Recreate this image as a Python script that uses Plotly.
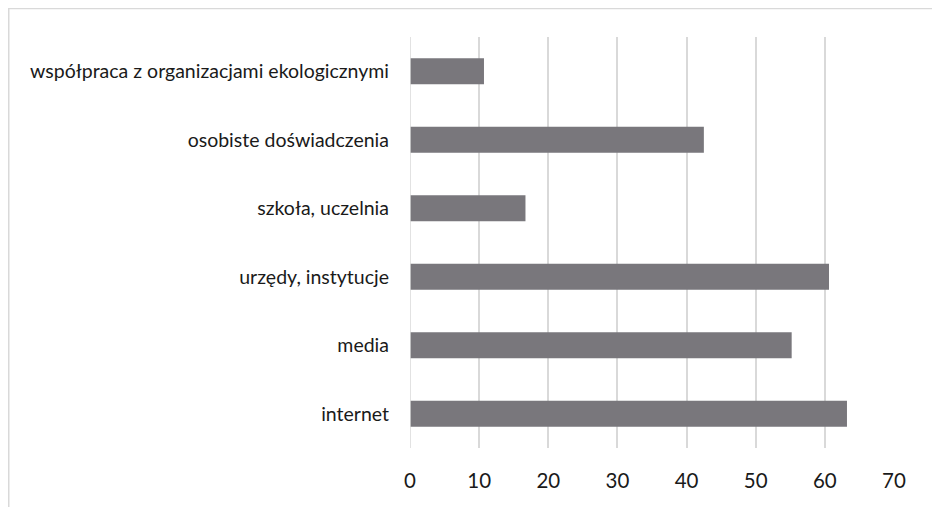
import plotly.graph_objects as go

categories = ["internet", "media", "urzędy, instytucje", "szkoła, uczelnia",
              "osobiste doświadczenia", "współpraca z organizacjami ekologicznymi"]
values = [63.2, 55.2, 60.6, 16.7, 42.5, 10.7]
x_ticks = [0, 10, 20, 30, 40, 50, 60, 70]

# page has an 8px body margin; figure coordinates below are page - 8
W, H = 932, 499
L, R, T, B = 402, 886, 29, 440

fig = go.Figure(go.Bar(
    y=categories, x=values, orientation="h",
    marker=dict(color="#79777c", line=dict(width=0)),
    width=0.38,
))

def px_x(p):
    return (p - L) / (R - L)

def px_y(p):
    return (B - p) / (B - T)

fig.update_layout(
    width=W, height=H,
    margin=dict(l=L, r=W - R, t=T, b=H - B, pad=0),
    paper_bgcolor="white", plot_bgcolor="white",
    showlegend=False,
    font=dict(family="Lato, Open Sans, sans-serif", color="#1a1a1a"),
    xaxis=dict(range=[0, 70], tickvals=x_ticks, showgrid=True,
               gridcolor="#d9d9d9", gridwidth=1.5, zeroline=False,
               showline=False, ticks="", tickfont=dict(size=20.5, color="#1a1a1a"),
               ticklabelstandoff=18, fixedrange=True),
    yaxis=dict(categoryorder="array", categoryarray=categories,
               showgrid=False, zeroline=False, showline=False, ticks="",
               tickfont=dict(size=19.5, color="#1a1a1a"),
               ticklabelstandoff=20, range=[-0.5, 5.5]),
    shapes=[
        dict(type="line", xref="paper", yref="paper",
             x0=px_x(0), x1=px_x(W + 5), y0=px_y(0.5), y1=px_y(0.5),
             line=dict(color="#d9d9d9", width=1.5)),
        dict(type="line", xref="paper", yref="paper",
             x0=px_x(0.75), x1=px_x(0.75), y0=px_y(0), y1=px_y(H + 5),
             line=dict(color="#d9d9d9", width=1.5)),
        dict(type="line", xref="x", yref="paper",
             x0=0, x1=0, y0=0, y1=1, layer="above",
             line=dict(color="#d9d9d9", width=1.5)),
    ],
)

fig.write_html("out.html")
